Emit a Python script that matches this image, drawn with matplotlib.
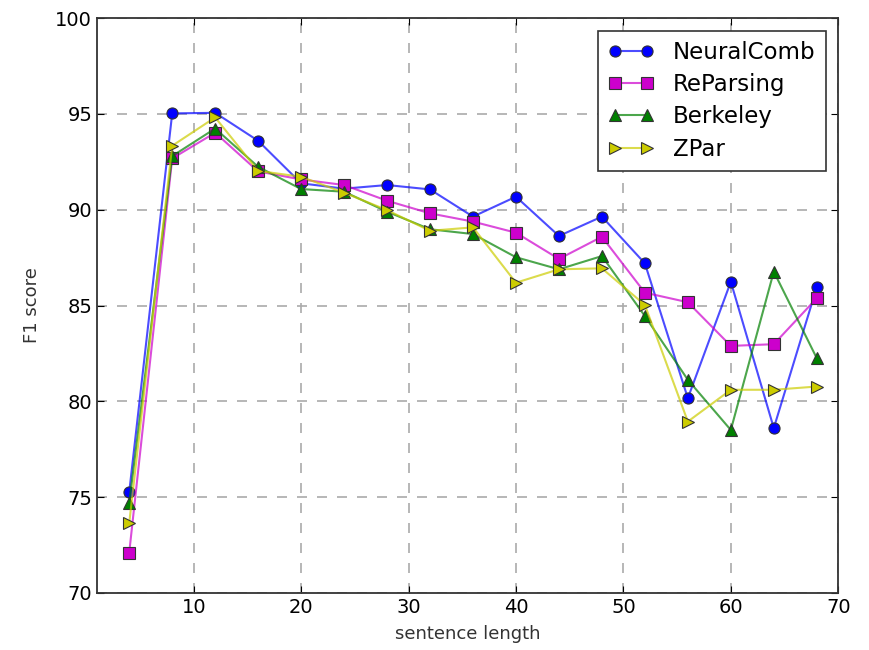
import numpy as np
import matplotlib
matplotlib.use("Agg")
import matplotlib.pyplot as plt

# -------------------------------------------------
# DATA
# -------------------------------------------------
lengths = [4, 8, 12, 16, 20, 24, 28, 32, 36, 40, 44, 48, 52, 56, 60, 64, 68]

neuralcomb = [75.26, 95.03, 95.06, 93.6, 91.38, 91.1, 91.29, 91.06, 89.64, 90.68,
              88.63, 89.64, 87.2, 80.16, 86.24, 78.6, 85.95]
reparsing = [72.1, 92.68, 94.02, 92.0, 91.58, 91.29, 90.47, 89.81, 89.38, 88.8,
             87.43, 88.59, 85.67, 85.17, 82.89, 82.98, 85.38]
berkeley = [74.68, 92.8, 94.24, 92.24, 91.08, 90.94, 89.9, 88.98, 88.73, 87.52,
            86.89, 87.58, 84.45, 81.12, 78.5, 86.77, 82.25]
zpar = [73.64, 93.34, 94.82, 92.03, 91.72, 90.89, 89.98, 88.9, 89.08, 86.19,
        86.89, 86.94, 85.03, 78.94, 80.6, 80.6, 80.77]

# -------------------------------------------------
# PLOT
# -------------------------------------------------
fig = plt.figure(figsize=(8.7, 6.5), dpi=100)
ax = fig.add_axes([0.1115, 0.088, 0.852, 0.884])

style = dict(linewidth=1.5, markersize=8, markeredgecolor="#333333", markeredgewidth=0.8)
ax.plot(lengths, neuralcomb, "o-", color="#0000ff", label="NeuralComb", **style)
ax.plot(lengths, reparsing, "s-", color="#cc00cc", label="ReParsing", **style)
ax.plot(lengths, berkeley, "^-", color="#008000", label="Berkeley", **style)
ax.plot(lengths, zpar, ">-", color="#cccc00", label="ZPar", **style)
# lighter lines, solid markers
for ln in ax.lines:
    c = ln.get_color()
    ln.set_color(matplotlib.colors.to_rgba(c, 0.7))
    ln.set_markerfacecolor(c)

ax.set_xlim(1, 70)
ax.set_ylim(70, 100)
ax.set_xticks(np.arange(10, 71, 10))
ax.set_yticks(np.arange(70, 101, 5))
ax.tick_params(direction="in", top=True, right=True, labelsize=14, length=5)
ax.grid(True, linestyle=(0, (6, 6)), color="#aaaaaa", linewidth=1.2)
for sp in ax.spines.values():
    sp.set_linewidth(1.3)
    sp.set_color("#333333")

ax.set_xlabel("sentence length", fontsize=13, color="#333333", labelpad=6)
ax.set_ylabel("F1 score", fontsize=13, color="#333333", labelpad=10)

leg = ax.legend(loc="upper right", numpoints=2, fontsize=16.5, fancybox=False,
                framealpha=1, edgecolor="#333333", borderpad=0.45,
                labelspacing=0.4, handlelength=2.0, borderaxespad=0.55)
leg.get_frame().set_linewidth(1.2)

fig.savefig("out.png", dpi=100)
